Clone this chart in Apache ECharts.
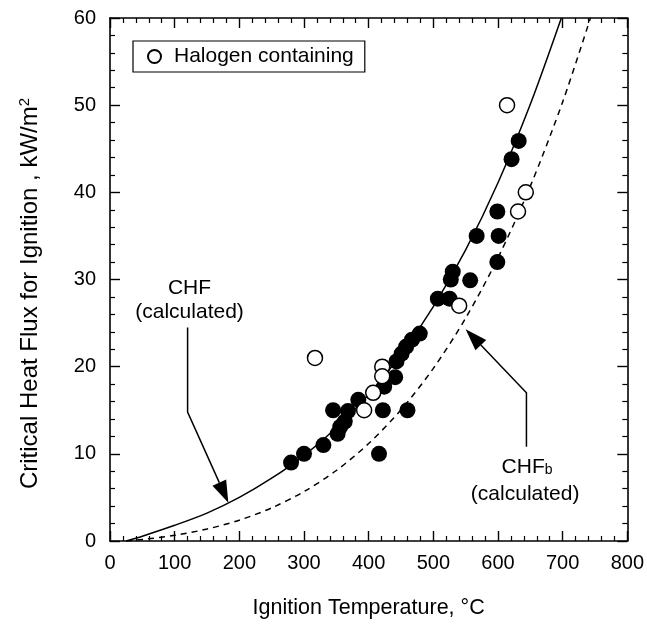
<!DOCTYPE html>
<html>
<head>
<meta charset="utf-8">
<script src="https://cdn.jsdelivr.net/npm/echarts@6/dist/echarts.min.js"></script>
<style>html,body{margin:0;padding:0;background:#fff}#c{width:647px;height:626px}</style>
</head>
<body>
<div id="c"></div>
<script>
// Filled circles (non-halogen materials)
const filledT = [280,300,330,345,352,356,363,368,384,416,422,424,441,443,451,458,460,467,479,507,525,527,530,557,567,599,599,601,621,632];
const filledQ = [9,10,11,15,12.3,13.1,13.7,14.9,16.2,10,15,17.7,18.8,20.6,21.5,22.3,15,23.1,23.8,27.8,27.8,30,30.9,29.9,35,32,37.8,35,43.8,45.9];
// Open circles (halogen containing)
const openT = [317,393,407,421,421,540,614,631,643];
const openQ = [21,15,17,20,18.9,27,50,37.8,40];
// CHF (calculated) curve
const chfT = [25,50,100,150,200,250,300,350,400,450,500,550,600,650,698];
const chfQ = [0,0.55,1.8,3.2,5.0,7.2,9.8,13.0,16.8,21.4,26.9,33.4,41.1,50.1,60];
// CHF_b (calculated) curve
const chfbT = [25,50,100,150,200,250,300,350,400,450,500,550,600,650,700,743];
const chfbQ = [0,0.17,0.65,1.37,2.39,3.8,5.67,8.09,11.18,15.05,19.8,25.57,32.49,40.71,50.37,60];
// Axis ticks
const xTicks = [0,100,200,300,400,500,600,700,800];
const yTicks = [0,10,20,30,40,50,60];

const FONT = 'Liberation Sans';
const zip = (a,b) => a.map((v,i)=>[v,b[i]]);

const chart = echarts.init(document.getElementById('c'), null, {renderer:'canvas'});

const axisCommon = {
  axisLine:{show:true,onZero:false,lineStyle:{color:'#000',width:1.6}},
  axisTick:{show:true,inside:true,length:10,lineStyle:{color:'#000',width:1.4}},
  minorTick:{show:true,splitNumber:5,length:5,lineStyle:{color:'#000',width:1.2}},
  splitLine:{show:false}
};

const option = {
  animation:false,
  backgroundColor:'#fff',
  grid:{left:110,right:16,top:18,bottom:85,containLabel:false},
  legend:{
    left:133, top:41,
    data:['Halogen containing'],
    orient:'horizontal',
    backgroundColor:'#fff',
    borderColor:'#000', borderWidth:1.2,
    padding:[5,11,5,14],
    itemWidth:13, itemHeight:13,
    selectedMode:false,
    textStyle:{fontFamily:FONT,fontSize:21,color:'#000',padding:[0,0,0,8]}
  },
  xAxis:[
    Object.assign({type:'value',min:0,max:800,interval:100,position:'bottom',
      name:'Ignition Temperature, °C',nameLocation:'middle',nameGap:56,
      nameTextStyle:{fontFamily:FONT,fontSize:21.5,color:'#000'},
      axisLabel:{fontFamily:FONT,fontSize:20,color:'#000',margin:12,
        formatter:v=>xTicks.includes(v)?String(v):''}}, axisCommon),
    Object.assign({type:'value',min:0,max:800,interval:100,position:'top',
      axisLabel:{show:false}}, axisCommon)
  ],
  yAxis:[
    Object.assign({type:'value',min:0,max:60,interval:10,position:'left',
      name:'Critical Heat Flux for Ignition , kW/m{sup|2}',nameLocation:'middle',nameGap:67,
      nameRotate:90,
      nameTextStyle:{fontFamily:FONT,fontSize:24,color:'#000',padding:[0,28,0,0],
        rich:{sup:{fontFamily:FONT,fontSize:15,color:'#000',padding:[0,0,11,0]}}},
      axisLabel:{fontFamily:FONT,fontSize:20,color:'#000',margin:14,
        formatter:v=>yTicks.includes(v)?String(v):''}}, axisCommon),
    Object.assign({type:'value',min:0,max:60,interval:10,position:'right',
      axisLabel:{show:false}}, axisCommon)
  ],
  series:[
    {name:'CHF',type:'line',data:zip(chfT,chfQ),smooth:0.3,showSymbol:false,symbol:'none',
      lineStyle:{color:'#000',width:1.5},z:2,silent:true},
    {name:'CHFb',type:'line',data:zip(chfbT,chfbQ),smooth:0.3,showSymbol:false,symbol:'none',
      lineStyle:{color:'#000',width:1.5,type:[6,5]},z:2,silent:true},
    {name:'Non-halogen',type:'scatter',data:zip(filledT,filledQ),symbol:'circle',symbolSize:16,
      itemStyle:{color:'#000',borderColor:'#000',borderWidth:0,opacity:1},z:3},
    {name:'Halogen containing',type:'scatter',data:zip(openT,openQ),symbol:'circle',symbolSize:15,
      itemStyle:{color:'#fff',borderColor:'#000',borderWidth:1.5,opacity:1},z:4}
  ]
};
chart.setOption(option);

// Annotations placed in data coordinates
const P = (x,y) => chart.convertToPixel({xAxisIndex:0,yAxisIndex:0},[x,y]);
function arrow(points){
  const px = points.map(p=>P(p[0],p[1]));
  const n = px.length;
  const tip = px[n-1], prev = px[n-2];
  const dx = tip[0]-prev[0], dy = tip[1]-prev[1];
  const L = Math.hypot(dx,dy), ux = dx/L, uy = dy/L;
  const len = 22, hw = 7.5;
  const bx = tip[0]-ux*len, by = tip[1]-uy*len;
  const linePts = px.slice(0,n-1).concat([[bx,by]]);
  return [
    {type:'polyline',shape:{points:linePts},style:{stroke:'#000',lineWidth:1.5,fill:null},z:10},
    {type:'polygon',shape:{points:[tip,[bx-uy*hw,by+ux*hw],[bx+uy*hw,by-ux*hw]]},style:{fill:'#000'},z:10}
  ];
}
function label(x,y,text,rich){
  const p = P(x,y);
  return {type:'text',x:p[0],y:p[1],z:10,
    style:{text:text,fontFamily:FONT,fontSize:21,fill:'#000',align:'center',verticalAlign:'middle',rich:rich||{}}};
}
const subRich = {sub:{fontFamily:FONT,fontSize:14,fill:'#000',verticalAlign:'bottom',lineHeight:14,padding:[6,0,0,0]}};
chart.setOption({graphic:[].concat(
  arrow([[120,24.5],[120,14.8],[183,4.4]]),
  arrow([[644,10.8],[644,17],[550,24.3]]),
  [label(123,29,'CHF'), label(123,26.3,'(calculated)'),
   label(645,8.5,'CHF{sub|b}',subRich), label(642,5.4,'(calculated)')]
)});
</script>
</body>
</html>
